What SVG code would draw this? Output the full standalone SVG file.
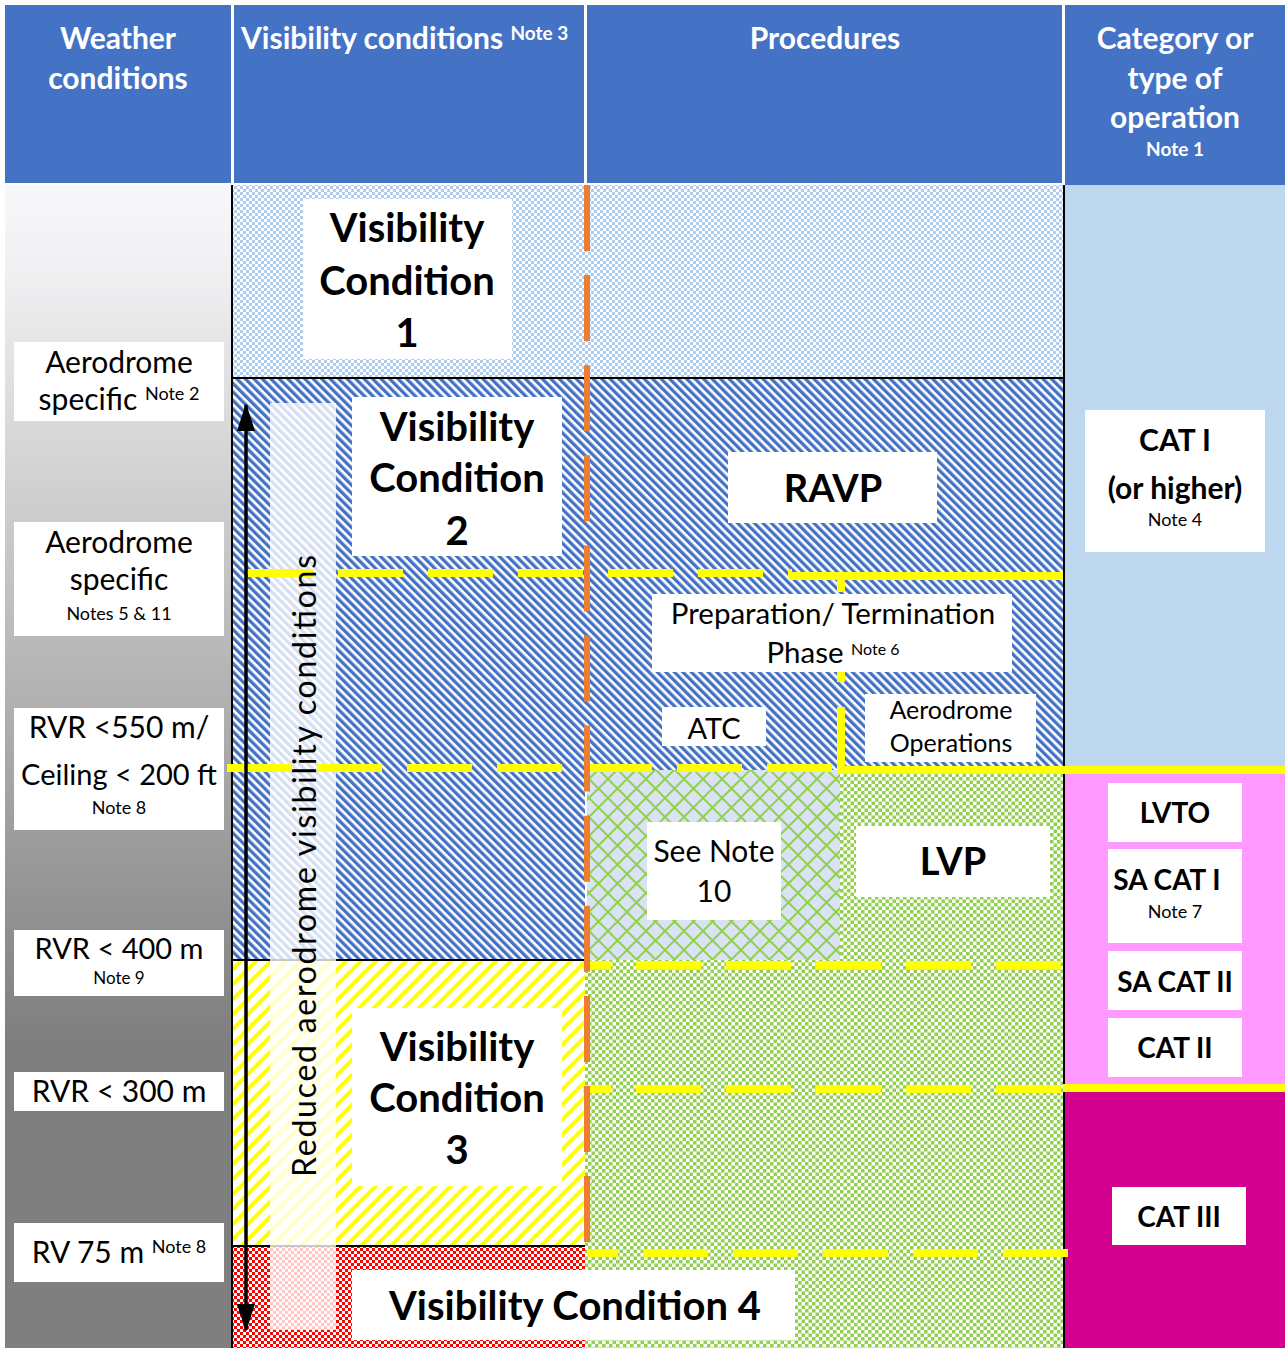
<svg xmlns="http://www.w3.org/2000/svg" width="1285" height="1348" viewBox="0 0 1285 1348">
<defs>
<style>
.hd{font-family:Lato,"Liberation Sans",sans-serif;font-weight:700;fill:#fff;text-anchor:middle}
.t{font-family:Lato,"Liberation Sans",sans-serif;fill:#000;text-anchor:middle}
.b{font-weight:700}
.box{fill:#fff}
.yd{stroke:#ffff00;stroke-width:8;fill:none;stroke-dasharray:65 25}
.ys{stroke:#ffff00;stroke-width:8;fill:none}
.bl{stroke:#000;stroke-width:2;fill:none}
</style>
<linearGradient id="gray" gradientUnits="userSpaceOnUse" x1="0" y1="185" x2="0" y2="1040">
<stop offset="0" stop-color="#f8f8fa"/><stop offset="0.1" stop-color="#f0f0f2"/><stop offset="1" stop-color="#7f7f7f"/>
</linearGradient>
<pattern id="pLB" width="6" height="6" patternUnits="userSpaceOnUse"><rect width="6" height="6" fill="#fff"/><rect width="3" height="3" fill="#b0cdee"/><rect x="3" y="3" width="3" height="3" fill="#b0cdee"/></pattern>
<pattern id="pBS" width="6" height="6" patternUnits="userSpaceOnUse" patternTransform="rotate(-45)"><rect width="6" height="6" fill="#fff"/><rect width="3.3" height="6" fill="#4472c4"/></pattern>
<pattern id="pYS" width="10.6" height="10.6" patternUnits="userSpaceOnUse" patternTransform="rotate(45)"><rect width="10.6" height="10.6" fill="#fff"/><rect width="4" height="10.6" fill="#ffff00"/></pattern>
<pattern id="pRC" width="6" height="6" patternUnits="userSpaceOnUse"><rect width="6" height="6" fill="#fff"/><rect width="3" height="3" fill="#ff0000"/><rect x="3" y="3" width="3" height="3" fill="#ff0000"/></pattern>
<pattern id="pGC" width="7" height="7" patternUnits="userSpaceOnUse"><rect width="7" height="7" fill="#fff"/><rect width="3.5" height="3.5" fill="#92d050"/><rect x="3.5" y="3.5" width="3.5" height="3.5" fill="#92d050"/></pattern>
<pattern id="pLat" width="19" height="19" patternUnits="userSpaceOnUse"><rect width="19" height="19" fill="#dae3f3"/><path d="M-1,-1L20,20M20,-1L-1,20" stroke="#92d050" stroke-width="2"/></pattern>
<marker id="ah" markerUnits="userSpaceOnUse" markerWidth="28" markerHeight="18" viewBox="0 0 28 18" refX="26" refY="9" orient="auto-start-reverse"><path d="M0,0L28,9L0,18z" fill="#000"/></marker>
</defs>
<rect width="1285" height="1348" fill="#fff"/>

<g id="header">
<rect x="5" y="5" width="226" height="178" fill="#4472c4"/>
<rect x="234" y="5" width="350" height="178" fill="#4472c4"/>
<rect x="587" y="5" width="475" height="178" fill="#4472c4"/>
<rect x="1065" y="5" width="220" height="180" fill="#4472c4"/>
<text class="hd" font-size="30" x="118" y="49">Weather</text>
<text class="hd" font-size="30" x="118" y="89">conditions</text>
<text class="hd" font-size="30" x="241" y="49" style="text-anchor:start">Visibility conditions <tspan font-size="19" dy="-9">Note 3</tspan></text>
<text class="hd" font-size="30" x="825" y="49">Procedures</text>
<text class="hd" font-size="30" x="1175" y="49">Category or</text>
<text class="hd" font-size="30" x="1175" y="89">type of</text>
<text class="hd" font-size="30" x="1175" y="128">operation</text>
<text class="hd" font-size="19" x="1175" y="156">Note 1</text>
</g>

<g id="regions">
<rect x="5" y="185" width="226" height="1163" fill="url(#gray)"/>
<rect x="233" y="185" width="830" height="193" fill="url(#pLB)"/>
<rect x="233" y="378" width="830" height="392" fill="url(#pBS)"/>
<rect x="233" y="770" width="352" height="190" fill="url(#pBS)"/>
<rect x="587" y="770" width="253" height="190" fill="url(#pLat)"/>
<rect x="840" y="770" width="223" height="190" fill="url(#pGC)"/>
<rect x="585" y="960" width="478" height="388" fill="url(#pGC)"/>
<rect x="233" y="960" width="352" height="286" fill="url(#pYS)"/>
<rect x="233" y="1246" width="352" height="102" fill="url(#pRC)"/>
<rect x="1065" y="185" width="220" height="585" fill="#bdd7ee"/>
<rect x="1065" y="770" width="220" height="318" fill="#ff99ff"/>
<rect x="1065" y="1088" width="220" height="260" fill="#d4008f"/>
<path class="bl" d="M232,185V1348M1064,185V1348M232,378H1063M232,960H585M232,1246H585"/>
<rect id="reduced-strip" x="270" y="403" width="66" height="927" fill="#fff" opacity="0.78"/>
</g>

<g id="connectors">
<path class="yd" d="M248,573H792"/>
<path class="ys" d="M790,576H1063"/>
<path class="yd" d="M841,576V770" stroke-dashoffset="49"/>
<path class="yd" d="M227,768H840"/>
<path class="ys" d="M838,770H1285"/>
<path class="yd" d="M583,965H1063" stroke-dashoffset="37"/>
<path class="yd" d="M583,1089H1063" stroke-dashoffset="37"/>
<path class="ys" d="M1063,1088H1285"/>
<path class="yd" d="M587,1253H1069" stroke-dashoffset="34"/>
<path d="M587,185V1246" stroke="#ed7d31" stroke-width="6" stroke-dasharray="66 24.1" fill="none"/>
<path d="M246,405V1330" stroke="#000" stroke-width="3.5" marker-start="url(#ah)" marker-end="url(#ah)"/>
</g>

<g id="weather-labels">
<g id="w1"><rect class="box" x="14" y="342" width="210" height="79"/>
<text class="t" font-size="30" x="119" y="373">Aerodrome</text>
<text class="t" font-size="30" x="119" y="410">specific <tspan font-size="18" dy="-10">Note 2</tspan></text></g>
<g id="w2"><rect class="box" x="14" y="522" width="210" height="114"/>
<text class="t" font-size="30" x="119" y="553">Aerodrome</text>
<text class="t" font-size="30" x="119" y="590">specific</text>
<text class="t" font-size="18" x="119" y="620">Notes 5 &amp; 11</text></g>
<g id="w3"><rect class="box" x="14" y="708" width="210" height="122"/>
<text class="t" font-size="30" x="119" y="738">RVR &lt;550 m/</text>
<text class="t" font-size="29" x="119" y="785">Ceiling &lt; 200 ft</text>
<text class="t" font-size="18" x="119" y="814">Note 8</text></g>
<g id="w4"><rect class="box" x="14" y="930" width="210" height="66"/>
<text class="t" font-size="29" x="119" y="959">RVR &lt; 400 m</text>
<text class="t" font-size="17" x="119" y="984">Note 9</text></g>
<g id="w5"><rect class="box" x="14" y="1072" width="210" height="39"/>
<text class="t" font-size="30" x="119" y="1102">RVR &lt; 300 m</text></g>
<g id="w6"><rect class="box" x="14" y="1223" width="210" height="59"/>
<text class="t" font-size="30" x="119" y="1263">RV 75 m <tspan font-size="18" dy="-10">Note 8</tspan></text></g>
</g>

<g id="vc1"><rect class="box" x="303" y="199" width="209" height="160"/>
<text class="t b" font-size="40" x="407" y="242">Visibility</text>
<text class="t b" font-size="40" x="407" y="295">Condition</text>
<text class="t b" font-size="40" x="407" y="347">1</text></g>
<g id="vc2"><rect class="box" x="352" y="397" width="210" height="159"/>
<text class="t b" font-size="40" x="457" y="441">Visibility</text>
<text class="t b" font-size="40" x="457" y="492">Condition</text>
<text class="t b" font-size="40" x="457" y="545">2</text></g>
<g id="vc3"><rect class="box" x="352" y="1008" width="210" height="178"/>
<text class="t b" font-size="40" x="457" y="1061">Visibility</text>
<text class="t b" font-size="40" x="457" y="1112">Condition</text>
<text class="t b" font-size="40" x="457" y="1164">3</text></g>
<g id="vc4"><rect class="box" x="352" y="1270" width="443" height="70"/>
<text class="t b" font-size="40" x="575" y="1320">Visibility Condition 4</text></g>

<g id="ravp"><rect class="box" x="728" y="452" width="209" height="71"/>
<text class="t b" font-size="38" x="833" y="502">RAVP</text></g>
<g id="prep"><rect class="box" x="652" y="594" width="360" height="78"/>
<text class="t" font-size="29.5" x="833" y="624">Preparation/ Termination</text>
<text class="t" font-size="29.5" x="833" y="663">Phase <tspan font-size="16" dy="-8">Note 6</tspan></text></g>
<g id="atc"><rect class="box" x="662" y="707" width="104" height="39"/>
<text class="t" font-size="29" x="714" y="739">ATC</text></g>
<g id="aerops"><rect class="box" x="865" y="694" width="171" height="68"/>
<text class="t" font-size="25" x="951" y="719">Aerodrome</text>
<text class="t" font-size="25" x="951" y="752">Operations</text></g>
<g id="seenote"><rect class="box" x="647" y="822" width="134" height="98"/>
<text class="t" font-size="30" x="714" y="862">See Note</text>
<text class="t" font-size="30" x="714" y="902">10</text></g>
<g id="lvp"><rect class="box" x="856" y="826" width="194" height="71"/>
<text class="t b" font-size="38" x="953" y="875">LVP</text></g>

<g id="cat1"><rect class="box" x="1085" y="410" width="180" height="142"/>
<text class="t b" font-size="30" x="1175" y="451">CAT I</text>
<text class="t b" font-size="30" x="1175" y="499">(or higher)</text>
<text class="t" font-size="18" x="1175" y="526">Note 4</text></g>
<g id="lvto"><rect class="box" x="1108" y="783" width="134" height="59"/>
<text class="t b" font-size="28" x="1175" y="823">LVTO</text></g>
<g id="sacat1"><rect class="box" x="1108" y="849" width="134" height="94"/>
<text class="t b" font-size="28" x="1167" y="890">SA CAT I</text>
<text class="t" font-size="18" x="1175" y="918">Note 7</text></g>
<g id="sacat2"><rect class="box" x="1108" y="951" width="134" height="59"/>
<text class="t b" font-size="28" x="1175" y="992">SA CAT II</text></g>
<g id="cat2"><rect class="box" x="1108" y="1018" width="134" height="59"/>
<text class="t b" font-size="28" x="1175" y="1058">CAT II</text></g>
<g id="cat3"><rect class="box" x="1112" y="1187" width="134" height="58"/>
<text class="t b" font-size="28" x="1179" y="1227">CAT III</text></g>

<g id="reduced-label">
<text class="t" font-size="32" textLength="622" lengthAdjust="spacing" transform="translate(316,866) rotate(-90)">Reduced aerodrome visibility conditions</text>
</g>
</svg>
